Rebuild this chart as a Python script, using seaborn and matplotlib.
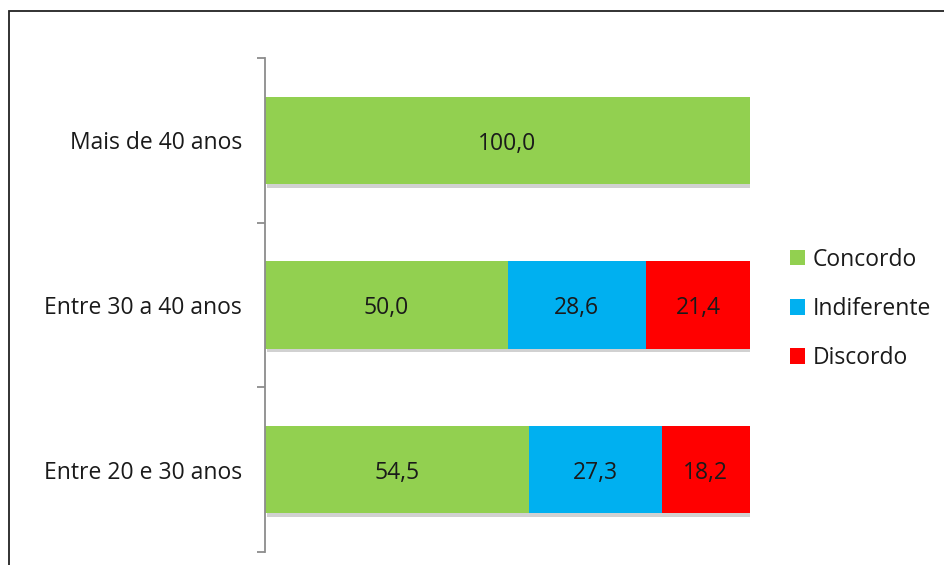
import matplotlib
matplotlib.use("Agg")
import matplotlib.pyplot as plt
import matplotlib.patheffects as pe
from matplotlib.patches import Rectangle, Patch
import seaborn as sns
import pandas as pd

# Age groups, top to bottom as drawn
groups = ["Mais de 40 anos", "Entre 30 a 40 anos", "Entre 20 e 30 anos"]
concordo = [100.0, 50.0, 54.5]
indiferente = [0.0, 28.6, 27.3]
discordo = [0.0, 21.4, 18.2]

series_names = ["Concordo", "Indiferente", "Discordo"]
colors = ["#92D050", "#00B0F0", "#FF0000"]

FS = 16.5

sns.set_theme(style="white")
plt.rcParams["font.family"] = ["Open Sans", "DejaVu Sans"]

fig = plt.figure(figsize=(9.44, 5.65), dpi=100)
ax = fig.add_axes([265 / 944, 13 / 565, 485 / 944, 494 / 565])

df = pd.DataFrame({
    "grupo": groups,
    "Concordo": concordo,
    "Indiferente": indiferente,
    "Discordo": discordo,
})
df["c1"] = df["Concordo"]
df["c2"] = df["c1"] + df["Indiferente"]
df["c3"] = df["c2"] + df["Discordo"]

# Stacked bars: draw cumulative totals, widest first, so each segment shows through
for col, color in zip(["c3", "c2", "c1"], colors[::-1]):
    sns.barplot(data=df, x=col, y="grupo", order=groups, color=color,
                width=0.532, saturation=1, ax=ax, linewidth=0)

# Soft drop shadow under the full-length bars only
shadow = [pe.SimplePatchShadow(offset=(1.5, -2.5), shadow_rgbFace="#000000", alpha=0.18),
          pe.Normal()]
for p in ax.patches[:len(groups)]:
    p.set_path_effects(shadow)

# Value labels at the centre of each segment
for i, g in enumerate(groups):
    starts = [0.0, df["c1"][i], df["c2"][i]]
    vals = [df["Concordo"][i], df["Indiferente"][i], df["Discordo"][i]]
    for s, v in zip(starts, vals):
        if v > 0:
            ax.annotate(f"{v:.1f}".replace(".", ","), xy=(s + v / 2, i),
                        xytext=(0, -2.5), textcoords="offset points",
                        ha="center", va="center", fontsize=FS, color="#1a1a1a")

ax.set_xlim(0, 100)
ax.set_ylim(2.5, -0.5)
ax.set_xlabel("")
ax.set_ylabel("")
ax.set_xticks([])

for s in ["top", "right", "bottom"]:
    ax.spines[s].set_visible(False)
ax.spines["left"].set_color("#8c8c8c")
ax.spines["left"].set_linewidth(1.3)

ax.set_yticks(range(len(groups)))
ax.set_yticklabels(groups)
ax.set_yticks([-0.5, 0.5, 1.5, 2.5], minor=True)
ax.tick_params(axis="y", which="major", length=0, pad=16.5, labelsize=FS, labelcolor="#1a1a1a")
ax.tick_params(axis="y", which="minor", length=6, width=1.3, color="#8c8c8c", direction="out", left=True)

handles = [Patch(facecolor=c, edgecolor="none", label=n) for n, c in zip(series_names, colors)]
fig.legend(handles=handles, loc="center left", bbox_to_anchor=(790 / 944, 1 - 309 / 565),
           frameon=False, fontsize=FS, handlelength=0.66, handleheight=0.66,
           handletextpad=0.33, labelspacing=1.1, borderpad=0, borderaxespad=0,
           labelcolor="#1a1a1a")

# Outer frame of the figure
fig.patches.append(Rectangle((9 / 944, -0.1), 1.2, 1.1 - 11 / 565, transform=fig.transFigure,
                             fill=False, edgecolor="#222222", linewidth=1.3))

fig.savefig("out.png", dpi=100)
